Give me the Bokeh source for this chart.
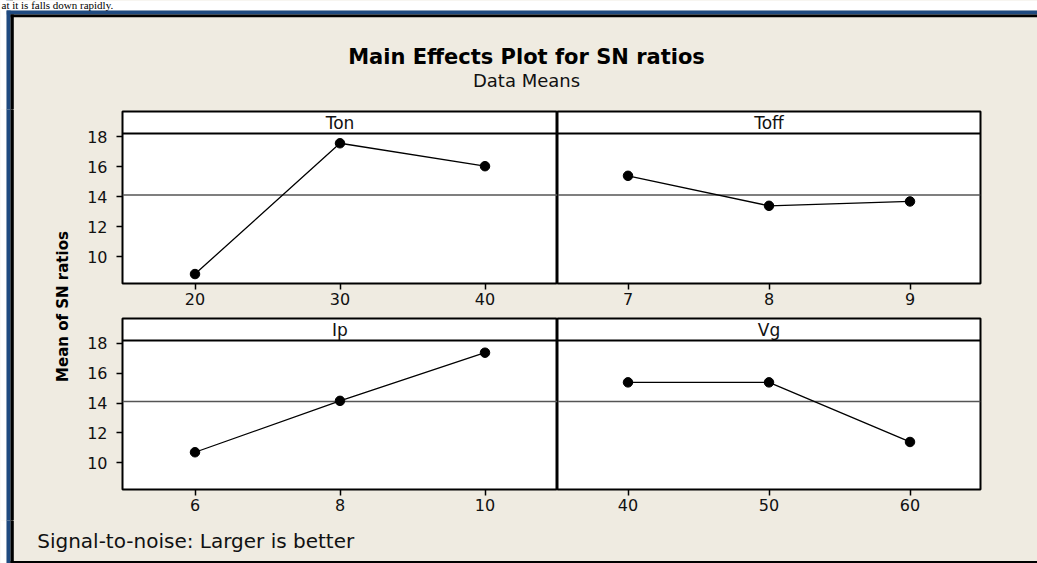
import math
import numpy as np
from bokeh.plotting import figure
from bokeh.models import Range1d, FixedTicker, Span, Label
from bokeh.layouts import column, row
from bokeh.embed import file_html
from bokeh.resources import INLINE

# ---------------- data ----------------
factors = ["Ton", "Toff", "Ip", "Vg"]
ton_levels = [20, 30, 40]
ton_sn = [8.83, 17.55, 16.02]
toff_levels = [7, 8, 9]
toff_sn = [15.38, 13.38, 13.67]
ip_levels = [6, 8, 10]
ip_sn = [10.70, 14.15, 17.38]
vg_levels = [40, 50, 60]
vg_sn = [15.39, 15.39, 11.39]
y_ticks = [10, 12, 14, 16, 18]

title_text = "Main Effects Plot for SN ratios"
subtitle_text = "Data Means"
ylabel_text = "Mean of SN ratios"
footer_text = "Signal-to-noise: Larger is better"
page_text = "at it is falls down rapidly."

grand_mean = float(np.mean(ton_sn + toff_sn + ip_sn + vg_sn))

# ---------------- style ----------------
BEIGE = "#EFEBE1"
BLUE = "#1F4A80"
FONT = "DejaVu Sans"
INK = "#111111"

Y_LO, Y_DATA_TOP = 8.2, 18.2
HEADER_PX = 22
EXT = 6  # overdraw beyond canvas edges so decoration bands meet without seams


def panel(name, levels, values, width, frame_h, left, right, top, bottom, show_y):
    step = levels[1] - levels[0]
    height = top + frame_h + bottom
    data_px = frame_h - HEADER_PX
    y_hi = Y_DATA_TOP + HEADER_PX * (Y_DATA_TOP - Y_LO) / data_px
    x0, x1 = levels[0] - step / 2, levels[-1] + step / 2
    p = figure(width=width, height=height,
               x_range=Range1d(x0, x1), y_range=Range1d(Y_LO, y_hi),
               output_backend="svg", toolbar_location=None,
               y_axis_location="left" if show_y else None,
               min_border_left=left, min_border_right=right,
               min_border_top=top, min_border_bottom=bottom)
    p.background_fill_color = "white"
    p.border_fill_color = BEIGE
    p.outline_line_color = "black"
    p.outline_line_width = 2
    p.xgrid.visible = False
    p.ygrid.visible = False

    ax = p.xaxis[0]
    ax.ticker = FixedTicker(ticks=levels)
    ax.axis_line_color = None
    ax.major_tick_in = 0
    ax.major_tick_out = 6
    ax.major_tick_line_width = 1.5
    ax.major_tick_line_color = "black"
    ax.minor_tick_line_color = None
    ax.major_label_standoff = 3
    ax.major_label_text_font = FONT
    ax.major_label_text_font_size = "16px"
    ax.major_label_text_color = INK

    if show_y:
        ay = p.yaxis[0]
        ay.ticker = FixedTicker(ticks=y_ticks)
        ay.axis_line_color = None
        ay.major_tick_in = 0
        ay.major_tick_out = 6
        ay.major_tick_line_width = 1.5
        ay.major_tick_line_color = "black"
        ay.minor_tick_line_color = None
        ay.major_label_standoff = 9
        ay.major_label_text_font = FONT
        ay.major_label_text_font_size = "16px"
        ay.major_label_text_color = INK

    p.add_layout(Span(location=grand_mean, dimension="width",
                      line_color="#555555", line_width=1.5, level="underlay"))
    p.add_layout(Span(location=Y_DATA_TOP, dimension="width",
                      line_color="black", line_width=2))
    p.add_layout(Label(x=(x0 + x1) / 2, y=(Y_DATA_TOP + y_hi) / 2, text=name,
                       text_align="center", text_baseline="middle",
                       text_font=FONT, text_font_size="17px", text_color=INK))

    p.line(levels, values, line_color="black", line_width=1.3)
    p.scatter(levels, values, marker="circle", size=9.5,
              fill_color="black", line_color="black")
    return p


def deco(width, height):
    p = figure(width=width, height=height,
               x_range=Range1d(0, width), y_range=Range1d(0, height),
               output_backend="svg", toolbar_location=None,
               x_axis_location=None, y_axis_location=None, min_border=0)
    p.outline_line_color = None
    p.background_fill_color = BEIGE
    p.border_fill_color = BEIGE
    p.xgrid.visible = False
    p.ygrid.visible = False
    return p


def left_frame(p, height, top_black=None, top_blue=None):
    tb = height + EXT if top_blue is None else top_blue
    tk = height + EXT if top_black is None else top_black
    p.quad(left=-EXT, right=6, bottom=-EXT, top=height + EXT, fill_color="white", line_color=None)
    p.quad(left=6, right=10, bottom=-EXT, top=tb, fill_color=BLUE, line_color=None)
    p.quad(left=10, right=13.3, bottom=-EXT, top=tk, fill_color="black", line_color=None)


W = 1037
# header (page y 0..109)
HH = 109
hdr = deco(W, HH)
hdr.quad(left=-EXT, right=W + EXT, bottom=99, top=HH + EXT, fill_color="white", line_color=None)
hdr.quad(left=6, right=W + EXT, bottom=95, top=99, fill_color=BLUE, line_color=None)
hdr.quad(left=10, right=W + EXT, bottom=92.3, top=95, fill_color="black", line_color=None)
left_frame(hdr, HH, top_black=95, top_blue=99)
hdr.add_layout(Label(x=1, y=HH - 4.8, text=page_text, text_align="left",
                     text_baseline="middle", text_font="Liberation Serif",
                     text_font_size="11px", text_color="black"))
hdr.add_layout(Label(x=526, y=HH - 56.7, text=title_text, text_align="center",
                     text_baseline="middle", text_font=FONT,
                     text_font_size="21px", text_font_style="bold", text_color="black"))
hdr.add_layout(Label(x=526, y=HH - 80.3, text=subtitle_text, text_align="center",
                     text_baseline="middle", text_font=FONT,
                     text_font_size="18px", text_color=INK))

# y label strip (page x 0..70, y 109..520)
YH = 411
ylab = deco(70, YH)
left_frame(ylab, YH)
ylab.add_layout(Label(x=62, y=YH - (306 - 109), text=ylabel_text, angle=math.pi / 2,
                      text_align="center", text_baseline="middle", text_font=FONT,
                      text_font_size="15px", text_font_style="bold", text_color="black"))

# footer (page y 520..563)
FH = 43
ftr = deco(W, FH)
left_frame(ftr, FH)
ftr.quad(left=10, right=W + EXT, bottom=-EXT, top=2.5, fill_color="black", line_color=None)
ftr.add_layout(Label(x=36.7, y=FH - (540.7 - 520), text=footer_text, text_align="left",
                     text_baseline="middle", text_font=FONT,
                     text_font_size="20px", text_color=INK))

# panels
tl = panel(factors[0], ton_levels, ton_sn, 487, 172, 52, 0, 2, 33, True)
tr = panel(factors[1], toff_levels, toff_sn, 480, 172, 0, 57, 2, 33, False)
bl = panel(factors[2], ip_levels, ip_sn, 487, 171, 52, 0, 2, 31, True)
br = panel(factors[3], vg_levels, vg_sn, 480, 171, 0, 57, 2, 31, False)

bg = {"background-color": BEIGE}
edge_bg = {
    "background-color": BEIGE,
    "background-image": (f"linear-gradient(to right, white 0px, white 6px, {BLUE} 6px, "
                         f"{BLUE} 10px, black 10px, black 13.3px, {BEIGE} 13.3px)"),
}
grid = column(row(tl, tr, spacing=0, styles=bg), row(bl, br, spacing=0, styles=bg),
              spacing=0, styles=bg)
p = column(hdr, row(ylab, grid, spacing=0, styles=edge_bg), ftr, spacing=0, styles=edge_bg)

open("out.html", "w").write(file_html(p, INLINE))
